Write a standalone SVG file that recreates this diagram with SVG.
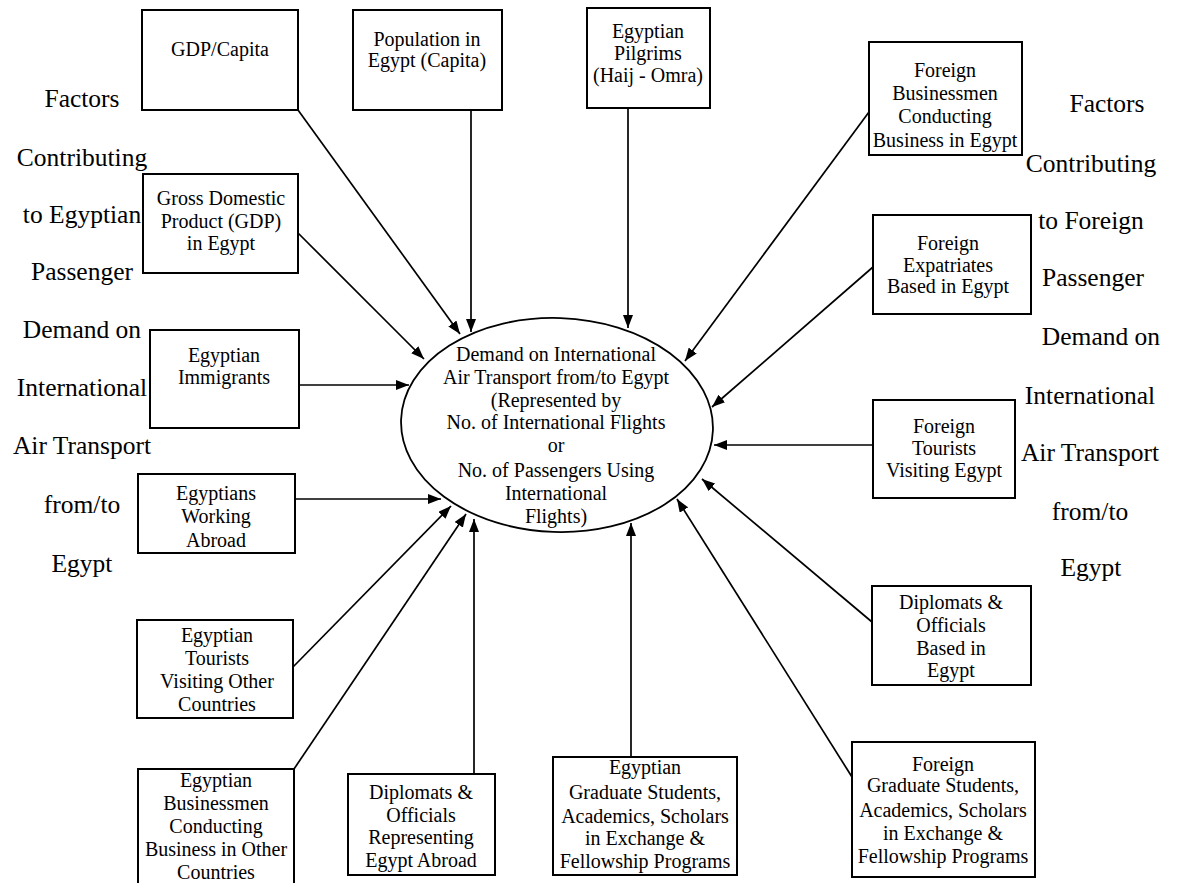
<svg xmlns="http://www.w3.org/2000/svg" width="1177" height="883" viewBox="0 0 1177 883">
<defs>
<marker id="ah" markerUnits="userSpaceOnUse" markerWidth="14" markerHeight="10" refX="13" refY="5" orient="auto">
<path d="M0,0 L13,5 L0,10 z" fill="#000"/>
</marker>
<style>
.box{fill:#fff;stroke:#000;stroke-width:2}
.t{font-family:"Liberation Serif","Times New Roman",serif;font-size:20px;fill:#000;text-anchor:middle}
.side{font-family:"Liberation Serif","Times New Roman",serif;font-size:25.5px;fill:#000;text-anchor:middle}
.c{stroke:#000;stroke-width:1.7;fill:none;marker-end:url(#ah)}
</style>
</defs>
<rect width="1177" height="883" fill="#fff"/>

<g id="left-title">
<text class="side" x="82" y="107">Factors</text>
<text class="side" x="82" y="166">Contributing</text>
<text class="side" x="82" y="223">to Egyptian</text>
<text class="side" x="82" y="280">Passenger</text>
<text class="side" x="82" y="338">Demand on</text>
<text class="side" x="82" y="396">International</text>
<text class="side" x="82" y="454">Air Transport</text>
<text class="side" x="82" y="513">from/to</text>
<text class="side" x="82" y="572">Egypt</text>
</g>
<g id="right-title">
<text class="side" x="1107" y="112">Factors</text>
<text class="side" x="1091" y="172">Contributing</text>
<text class="side" x="1091" y="229">to Foreign</text>
<text class="side" x="1093" y="286">Passenger</text>
<text class="side" x="1101" y="345">Demand on</text>
<text class="side" x="1090" y="404">International</text>
<text class="side" x="1090" y="461">Air Transport</text>
<text class="side" x="1090" y="520">from/to</text>
<text class="side" x="1091" y="576">Egypt</text>
</g>

<g id="connectors">
<line class="c" x1="298" y1="110" x2="460" y2="334"/>
<line class="c" x1="471" y1="110" x2="471" y2="332"/>
<line class="c" x1="628" y1="108" x2="628" y2="328"/>
<line class="c" x1="869" y1="112" x2="685" y2="361"/>
<line class="c" x1="298" y1="233" x2="424" y2="359"/>
<line class="c" x1="873" y1="267" x2="712" y2="407"/>
<line class="c" x1="299" y1="385" x2="409" y2="385"/>
<line class="c" x1="873" y1="445" x2="714" y2="445"/>
<line class="c" x1="295" y1="499" x2="441" y2="499"/>
<line class="c" x1="293" y1="667" x2="451" y2="506"/>
<line class="c" x1="294" y1="769" x2="466" y2="514"/>
<line class="c" x1="474" y1="774" x2="474" y2="519"/>
<line class="c" x1="631" y1="757" x2="631" y2="523"/>
<line class="c" x1="852" y1="777" x2="677" y2="499"/>
<line class="c" x1="872" y1="622" x2="702" y2="479"/>
</g>

<g id="center">
<ellipse cx="557" cy="425" rx="156" ry="107" transform="rotate(2 557 425)" fill="none" stroke="#000" stroke-width="1.8"/>
<text class="t" x="556" y="361">Demand on International</text>
<text class="t" x="556" y="384">Air Transport from/to Egypt</text>
<text class="t" x="556" y="407">(Represented by</text>
<text class="t" x="556" y="429">No. of International Flights</text>
<text class="t" x="556" y="452">or</text>
<text class="t" x="556" y="477">No. of Passengers Using</text>
<text class="t" x="556" y="500">International</text>
<text class="t" x="556" y="523">Flights)</text>
</g>

<g id="gdp-capita">
<rect class="box" x="142" y="10" width="156" height="100"/>
<text class="t" x="220" y="56">GDP/Capita</text>
</g>
<g id="population">
<rect class="box" x="353" y="10" width="149" height="100"/>
<text class="t" x="427" y="46">Population in</text>
<text class="t" x="427" y="67">Egypt (Capita)</text>
</g>
<g id="pilgrims">
<rect class="box" x="587" y="8" width="123" height="100"/>
<text class="t" x="648" y="38">Egyptian</text>
<text class="t" x="648" y="60">Pilgrims</text>
<text class="t" x="648" y="82">(Haij - Omra)</text>
</g>
<g id="foreign-businessmen">
<rect class="box" x="869" y="42" width="153" height="113"/>
<text class="t" x="945" y="77">Foreign</text>
<text class="t" x="945" y="100">Businessmen</text>
<text class="t" x="945" y="123">Conducting</text>
<text class="t" x="945" y="147">Business in Egypt</text>
</g>
<g id="gdp">
<rect class="box" x="143" y="174" width="155" height="99"/>
<text class="t" x="221" y="205">Gross Domestic</text>
<text class="t" x="221" y="228">Product (GDP)</text>
<text class="t" x="221" y="250">in Egypt</text>
</g>
<g id="foreign-expatriates">
<rect class="box" x="873" y="215" width="158" height="99"/>
<text class="t" x="948" y="250">Foreign</text>
<text class="t" x="948" y="272">Expatriates</text>
<text class="t" x="948" y="293">Based in Egypt</text>
</g>
<g id="immigrants">
<rect class="box" x="150" y="330" width="149" height="98"/>
<text class="t" x="224" y="362">Egyptian</text>
<text class="t" x="224" y="384">Immigrants</text>
</g>
<g id="foreign-tourists">
<rect class="box" x="873" y="400" width="142" height="98"/>
<text class="t" x="944" y="433">Foreign</text>
<text class="t" x="944" y="455">Tourists</text>
<text class="t" x="944" y="477">Visiting Egypt</text>
</g>
<g id="working-abroad">
<rect class="box" x="138" y="474" width="157" height="79"/>
<text class="t" x="216" y="500">Egyptians</text>
<text class="t" x="216" y="523">Working</text>
<text class="t" x="216" y="547">Abroad</text>
</g>
<g id="egyptian-tourists">
<rect class="box" x="137" y="620" width="156" height="98"/>
<text class="t" x="217" y="642">Egyptian</text>
<text class="t" x="217" y="665">Tourists</text>
<text class="t" x="217" y="688">Visiting Other</text>
<text class="t" x="217" y="711">Countries</text>
</g>
<g id="diplomats-based">
<rect class="box" x="872" y="586" width="159" height="99"/>
<text class="t" x="951" y="609">Diplomats &amp;</text>
<text class="t" x="951" y="632">Officials</text>
<text class="t" x="951" y="655">Based in</text>
<text class="t" x="951" y="677">Egypt</text>
</g>
<g id="egyptian-businessmen">
<rect class="box" x="138" y="769" width="156" height="125"/>
<text class="t" x="216" y="787">Egyptian</text>
<text class="t" x="216" y="810">Businessmen</text>
<text class="t" x="216" y="833">Conducting</text>
<text class="t" x="216" y="856">Business in Other</text>
<text class="t" x="216" y="879">Countries</text>
</g>
<g id="diplomats-abroad">
<rect class="box" x="348" y="774" width="147" height="101"/>
<text class="t" x="421" y="799">Diplomats &amp;</text>
<text class="t" x="421" y="822">Officials</text>
<text class="t" x="421" y="844">Representing</text>
<text class="t" x="421" y="867">Egypt Abroad</text>
</g>
<g id="egyptian-graduates">
<rect class="box" x="553" y="757" width="184" height="118"/>
<text class="t" x="645" y="774">Egyptian</text>
<text class="t" x="645" y="799">Graduate Students,</text>
<text class="t" x="645" y="823">Academics, Scholars</text>
<text class="t" x="645" y="845">in Exchange &amp;</text>
<text class="t" x="645" y="868">Fellowship Programs</text>
</g>
<g id="foreign-graduates">
<rect class="box" x="852" y="742" width="183" height="135"/>
<text class="t" x="943" y="771">Foreign</text>
<text class="t" x="943" y="792">Graduate Students,</text>
<text class="t" x="943" y="817">Academics, Scholars</text>
<text class="t" x="943" y="840">in Exchange &amp;</text>
<text class="t" x="943" y="863">Fellowship Programs</text>
</g>
</svg>
